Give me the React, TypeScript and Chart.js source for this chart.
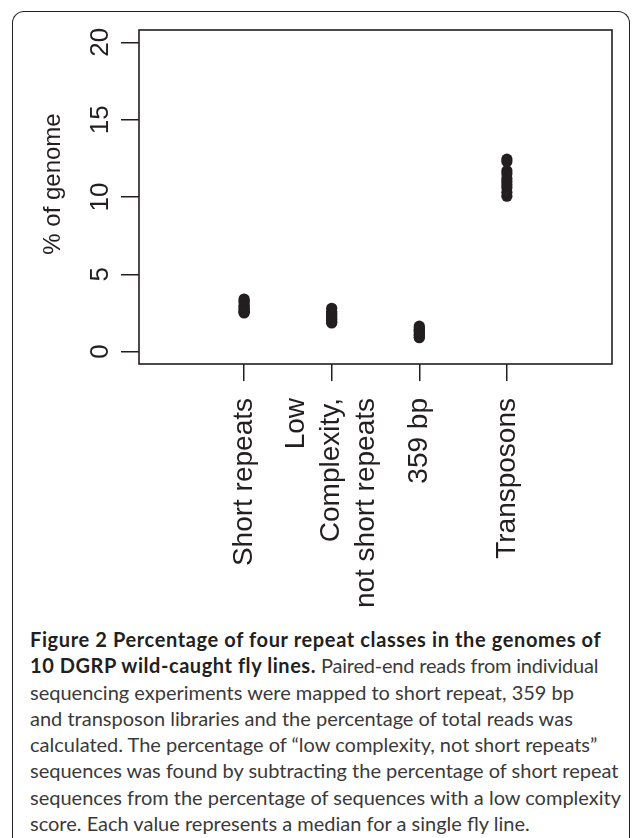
import React, { useEffect, useRef } from "react";
import { Chart, registerables } from "chart.js";

Chart.register(...registerables);

// ---- data ----
const categories: string[][] = [
  ["Short repeats"],
  ["Low", "Complexity,", "not short repeats"],
  ["359 bp"],
  ["Transposons"],
];
const categoryPositions = [1, 2, 3, 4];
const shortRepeats = [3.4, 3.3, 3.2, 3.0, 2.9, 2.8, 2.7, 2.6, 2.55, 2.5];
const lowComplexity = [2.8, 2.6, 2.5, 2.4, 2.3, 2.2, 2.1, 2.0, 1.9, 1.85];
const bp359 = [1.65, 1.55, 1.45, 1.4, 1.3, 1.2, 1.1, 1.05, 0.95, 0.9];
const transposons = [12.45, 12.3, 11.7, 11.5, 11.2, 11.0, 10.8, 10.6, 10.3, 10.05];
const yTicks = [0, 5, 10, 15, 20];
const yTitle = "% of genome";

const captionBold1 = "Figure 2 Percentage of four repeat classes in the genomes of";
const captionBold2 = "10 DGRP wild-caught fly lines.";
const captionLines = [
  " Paired-end reads from individual",
  "sequencing experiments were mapped to short repeat, 359 bp",
  "and transposon libraries and the percentage of total reads was",
  "calculated. The percentage of \u201Clow complexity, not short repeats\u201D",
  "sequences was found by subtracting the percentage of short repeat",
  "sequences from the percentage of sequences with a low complexity",
  "score. Each value represents a median for a single fly line.",
];

const INK = "#231f20";
const FONT = '"Liberation Sans", Arial, Helvetica, sans-serif';
const FS = 28;
const LINE_H = 35;

const boxPlugin = {
  id: "boxFrame",
  afterDraw(chart: any) {
    const { ctx, chartArea } = chart;
    ctx.save();
    ctx.strokeStyle = INK;
    ctx.lineWidth = 1.6;
    ctx.strokeRect(chartArea.left, chartArea.top, chartArea.right - chartArea.left, chartArea.bottom - chartArea.top);
    ctx.restore();
  },
};

const textPlugin = {
  id: "rotatedTexts",
  afterDraw(chart: any) {
    const { ctx, chartArea } = chart;
    const xs = chart.scales.x;
    ctx.save();
    ctx.fillStyle = INK;
    // category labels, rotated, right-aligned toward the axis
    ctx.font = `${FS}px ${FONT}`;
    ctx.textAlign = "right";
    ctx.textBaseline = "middle";
    categories.forEach((lines, i) => {
      const px = xs.getPixelForValue(categoryPositions[i]);
      const top = chartArea.bottom + 34;
      lines.forEach((line, j) => {
        const x = px + (j - (lines.length - 1) / 2) * LINE_H;
        ctx.save();
        ctx.translate(x, top);
        ctx.rotate(-Math.PI / 2);
        ctx.fillText(line, 0, 0);
        ctx.restore();
      });
    });
    // y axis title
    ctx.font = `24px ${FONT}`;
    ctx.textAlign = "center";
    ctx.textBaseline = "middle";
    ctx.translate(53, (chartArea.top + chartArea.bottom) / 2 - 13);
    ctx.rotate(-Math.PI / 2);
    ctx.fillText(yTitle, 0, 0);
    ctx.restore();
  },
};

export default function App() {
  const ref = useRef<HTMLCanvasElement | null>(null);

  useEffect(() => {
    if (!ref.current) return;
    const series = [shortRepeats, lowComplexity, bp359, transposons];
    const points: { x: number; y: number }[] = [];
    series.forEach((vals, i) => vals.forEach((v) => points.push({ x: categoryPositions[i], y: v })));

    const chart = new Chart(ref.current, {
      type: "scatter",
      data: {
        datasets: [
          {
            data: points,
            backgroundColor: INK,
            borderColor: INK,
            borderWidth: 0,
            pointRadius: 5.6,
            pointHoverRadius: 5.6,
          },
        ],
      },
      options: {
        responsive: false,
        animation: false,
        events: [],
        layout: { padding: { top: 30, right: 21, left: 0, bottom: 620 - 364 - 30 } },
        plugins: { legend: { display: false }, tooltip: { enabled: false } },
        scales: {
          x: {
            type: "linear",
            min: -0.2,
            max: 5.2,
            afterBuildTicks: (s: any) => {
              s.ticks = categoryPositions.map((v) => ({ value: v }));
            },
            afterFit: (s: any) => {
              s.height = 30;
            },
            ticks: { display: false },
            grid: { drawOnChartArea: false, drawTicks: true, tickLength: 17, color: INK, lineWidth: 1.5 },
            border: { display: false },
          },
          y: {
            type: "linear",
            min: -0.8,
            max: 20.8,
            afterBuildTicks: (s: any) => {
              s.ticks = yTicks.map((v) => ({ value: v }));
            },
            afterFit: (s: any) => {
              s.width = 139;
            },
            ticks: {
              autoSkip: false,
              minRotation: 90,
              maxRotation: 90,
              crossAlign: "center",
              padding: 6,
              color: INK,
              font: { family: FONT, size: 26 },
            },
            grid: { drawOnChartArea: false, drawTicks: true, tickLength: 18, color: INK, lineWidth: 1.5 },
            border: { display: false },
          },
        },
      },
      plugins: [boxPlugin, textPlugin],
    });
    return () => chart.destroy();
  }, []);

  return (
    <>
      <div
        style={{
          position: "absolute",
          left: 12,
          top: 11,
          width: 618,
          height: 827,
          boxSizing: "border-box",
          border: `1.5px solid ${INK}`,
          borderBottom: "none",
          borderRadius: "12px 12px 0 0",
        }}
      />
      <canvas
        ref={ref}
        width={633}
        height={620}
        style={{ position: "absolute", left: 0, top: 0, width: 633, height: 620 }}
      />
      <div
        style={{
          position: "absolute",
          left: 30,
          top: 626,
          fontFamily: "Lato, 'Open Sans', sans-serif",
          fontSize: 20,
          lineHeight: "26.3px",
          color: "#3a3a3a",
          whiteSpace: "nowrap",
        }}
      >
        <div style={{ fontWeight: 700, color: INK, letterSpacing: "0.62px" }}>{captionBold1}</div>
        <div>
          <span style={{ fontWeight: 700, color: INK, letterSpacing: "0.55px" }}>{captionBold2}</span>
          <span style={{ letterSpacing: "-0.2px" }}>{captionLines[0]}</span>
        </div>
        {captionLines.slice(1).map((l, i) => (
          <div key={i}>{l}</div>
        ))}
      </div>
    </>
  );
}
